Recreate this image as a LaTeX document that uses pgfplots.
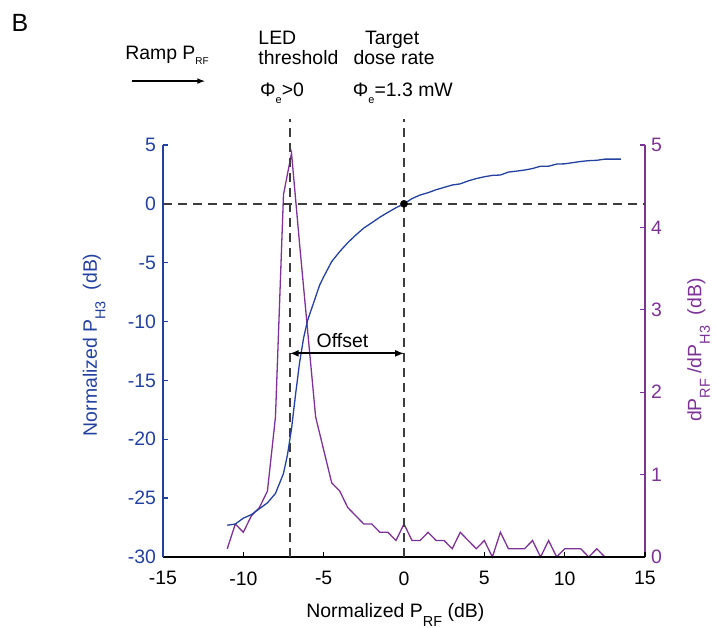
\documentclass[border=0pt]{standalone}
\usepackage{fontspec}
\setmainfont{Liberation Sans}
\usepackage{pgfplots}
\pgfplotsset{compat=1.18}
\definecolor{cblue}{RGB}{35,65,160}
\definecolor{cpurple}{RGB}{125,50,150}
\definecolor{cdash}{RGB}{60,60,60}
\newcommand\subA[1]{\raisebox{-5.5bp}{\fontsize{10}{10}\selectfont #1}}
\newcommand\subE[1]{\raisebox{-7bp}{\fontsize{11}{11}\selectfont #1}}
\newcommand\subL[1]{\raisebox{-8.5bp}{\fontsize{14.5}{14.5}\selectfont #1}}
\newcommand\mainfont{\fontsize{19.5}{22}\selectfont}
\begin{document}
\begin{tikzpicture}[font=\mainfont]
\path[use as bounding box] (-163bp,-71bp) rectangle (554bp,557bp);
% right axis (purple)
\begin{axis}[
 scale only axis, width=482bp, height=412bp,
 xmin=-15, xmax=15, ymin=0, ymax=5,
 axis y line*=right, axis x line=none,
 ytick={0,1,2,3,4,5}, yticklabels={0,1,2,3,4,5},
 tick align=inside, major tick length=5bp,
 y axis line style={cpurple, line width=1.8bp, -},
 ytick style={cpurple, line width=1.3bp},
 yticklabel style={cpurple, font=\mainfont, xshift=2.5bp},
 ylabel={dP\subL{RF} /dP\subL{H3}\ \ (dB)},
 ylabel style={cpurple, font=\mainfont, at={(axis description cs:1.117,0.502)}, anchor=base, rotate=0},
 clip=false,
]
\addplot[cpurple, line width=1.3bp] coordinates {
(-11,0.1) (-10.5,0.4) (-10,0.3) (-9.5,0.5) (-9,0.6) (-8.5,0.8) (-8,1.7) (-7.5,4.4) (-7,4.9) (-6.5,3.8) (-6,2.75) (-5.5,1.7) (-5,1.3) (-4.5,0.9) (-4,0.8) (-3.5,0.6) (-3,0.5) (-2.5,0.4) (-2,0.4) (-1.5,0.3) (-1,0.3) (-0.5,0.2) (0,0.4) (0.5,0.2) (1,0.2) (1.5,0.3) (2,0.2) (2.5,0.2) (3,0.1) (3.5,0.3) (4,0.2) (4.5,0.1) (5,0.2) (5.5,0) (6,0.3) (6.5,0.1) (7,0.1) (7.5,0.1) (8,0.2) (8.5,0) (9,0.2) (9.5,0) (10,0.1) (10.5,0.1) (11,0.1) (11.5,0) (12,0.1) (12.5,0) (13,0)
};
\end{axis}
% left axis (blue)
\begin{axis}[
 scale only axis, width=482bp, height=412bp,
 xmin=-15, xmax=15, ymin=-30, ymax=5,
 axis x line*=bottom, axis y line*=left,
 clip=false,
 xtick={-15,-10,-5,0,5,10,15}, xticklabels={-15,-10,-5,0,5,10,15},
 ytick={-30,-25,-20,-15,-10,-5,0,5}, yticklabels={-30,-25,-20,-15,-10,-5,0,5},
 tick align=inside, major tick length=5bp,
 x axis line style={black, line width=2.2bp, -},
 y axis line style={cblue, line width=1.6bp, -},
 xtick style={black, line width=1.5bp},
 ytick style={cblue, line width=1.3bp},
 yticklabel style={cblue, font=\mainfont, xshift=-3.5bp},
 xticklabel style={font=\mainfont, yshift=-11bp},
 xlabel={Normalized P\subL{RF} (dB)},
 ylabel={Normalized P\subL{H3}\ \ (dB)},
 ylabel style={cblue, font=\mainfont, at={(axis description cs:-0.137,0.515)}, anchor=base},
 xlabel style={font=\mainfont, at={(axis description cs:0.29,-0.148)}, anchor=base west},
]
% dashed guides
\addplot[cdash, line width=1.4bp, dash pattern=on 9bp off 6bp] coordinates {(-15,0) (15,0)};
\addplot[cdash, line width=1.4bp, dash pattern=on 9bp off 6bp] coordinates {(-7.1,-30) (-7.1,7.2)};
\addplot[cdash, line width=1.4bp, dash pattern=on 9bp off 6bp] coordinates {(0,-30) (0,7.2)};
% blue curve
\addplot[cblue, line width=1.3bp] coordinates {
(-11,-27.3) (-10.5,-27.2) (-10,-26.7) (-9.5,-26.4) (-9,-25.9) (-8.5,-25.4) (-8,-24.6) (-7.5,-22.9) (-7.25,-21.3) (-7,-19.1) (-6.75,-16.2) (-6.5,-13.5) (-6.25,-11.4) (-6,-9.9) (-5.75,-8.9) (-5.5,-7.9) (-5.25,-6.9) (-5,-6.2) (-4.5,-4.9) (-4,-4.05) (-3.5,-3.3) (-3,-2.65) (-2.5,-2.05) (-2,-1.6) (-1.5,-1.13) (-1,-0.72) (-0.5,-0.33) (0,0) (0.5,0.45) (1,0.75) (1.5,0.95) (2,1.2) (2.5,1.4) (3,1.6) (3.5,1.7) (4,1.95) (4.5,2.15) (5,2.3) (5.5,2.42) (6,2.45) (6.5,2.7) (7,2.78) (7.5,2.87) (8,3.0) (8.5,3.2) (9,3.2) (9.5,3.38) (10,3.4) (10.5,3.5) (11,3.6) (11.5,3.67) (12,3.7) (12.5,3.8) (13,3.8) (13.5,3.8)
};
% target point
\addplot[only marks, mark=*, mark size=3.6bp, black] coordinates {(0,0)};
% offset arrow
\addplot[black, line width=2bp, <->, >=latex] coordinates {(-7.1,-12.7) (0,-12.7)};
\node[anchor=base] at (axis cs:-3.83,-12.24) {Offset};
% top annotations
\node[anchor=base west, inner sep=0] at (axis cs:-17.36,12.3) {Ramp P\subA{RF}};
\draw[black, line width=1.5bp, -latex] (axis cs:-16.9,10.43) -- (axis cs:-12.4,10.43);
\node[anchor=base west, inner sep=0] at (axis cs:-9.07,13.55) {LED};
\node[anchor=base west, inner sep=0] at (axis cs:-9.07,11.85) {threshold};
\node[anchor=base west, inner sep=0] at (axis cs:-2.43,13.55) {Target};
\node[anchor=base west, inner sep=0] at (axis cs:-3.15,11.85) {dose rate};
\node[anchor=base west, inner sep=0] at (axis cs:-8.96,9.16) {Φ\subE{e}>0};
\node[anchor=base west, inner sep=0] at (axis cs:-3.19,9.16) {Φ\subE{e}=1.3 mW};
\node[anchor=center, font=\fontsize{25}{26}\selectfont] at (axis cs:-23.9,15.35) {B};
\end{axis}
\end{tikzpicture}
\end{document}
